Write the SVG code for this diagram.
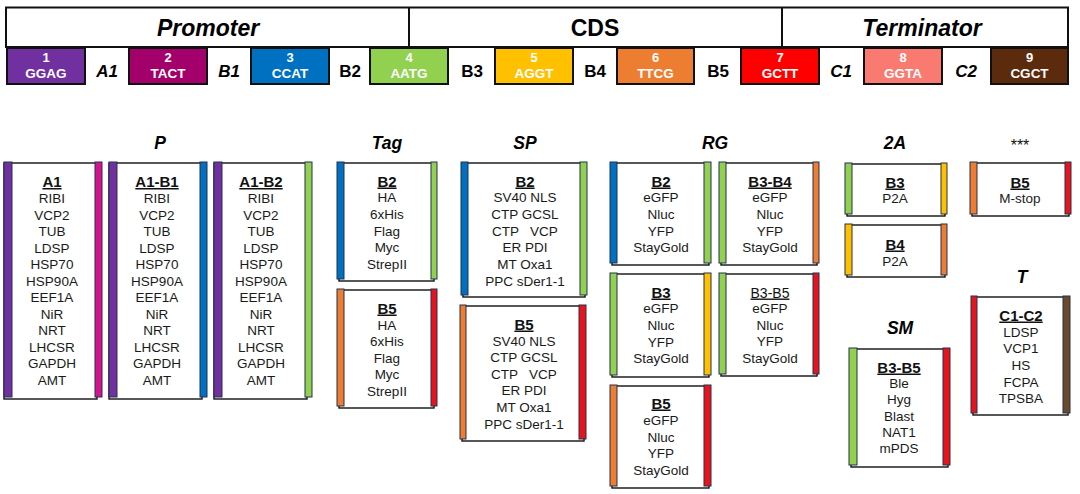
<svg xmlns="http://www.w3.org/2000/svg" width="1080" height="494" viewBox="0 0 1080 494">
<style>
text{font-family:"Liberation Sans",Arial,sans-serif;}
.hdr{font-size:23px;font-weight:bold;fill:#000;text-anchor:middle;}
.it{font-style:italic;}
.gap{font-size:17px;font-weight:bold;fill:#000;text-anchor:middle;}
.num{font-size:13px;font-weight:bold;fill:#fff;text-anchor:middle;}
.seq{font-size:13.5px;font-weight:bold;fill:#fff;text-anchor:middle;}
.part{stroke:#111;stroke-width:2;}
.sec{font-size:17.5px;font-weight:bold;font-style:italic;fill:#000;text-anchor:middle;}
.box{fill:#fff;stroke:#111;stroke-width:1.4;}
.bar{stroke:#23304f;stroke-width:1;}
.ttl{font-size:15px;font-weight:bold;fill:#111;text-anchor:middle;text-decoration:underline;}
.ttlr{font-size:14px;fill:#111;text-anchor:middle;text-decoration:underline;}
.itm{font-size:13.5px;fill:#1a1a1a;text-anchor:middle;}
.pu{fill:#7030A0;} .mg{fill:#D4148E;} .bl{fill:#0070C0;} .gr{fill:#92D050;} .ye{fill:#FFC000;} .or{fill:#ED7D31;} .rd{fill:#E8141B;} .br{fill:#6B4A2A;}
</style>

<g id="header">
<rect x="6" y="7.5" width="1062" height="39.5" fill="#fff" stroke="#111" stroke-width="2"/>
<line x1="409" y1="7.5" x2="409" y2="47" stroke="#111" stroke-width="2"/>
<line x1="782" y1="7.5" x2="782" y2="47" stroke="#111" stroke-width="2"/>
<text class="hdr it" x="208" y="36">Promoter</text>
<text class="hdr" x="595" y="36">CDS</text>
<text class="hdr it" x="922" y="36">Terminator</text>
</g>

<g id="parts">
<rect class="part" x="7" y="48" width="78" height="36" fill="#7030A0"/>
<text class="num" x="46" y="62">1</text><text class="seq" x="46" y="78">GGAG</text>
<rect class="part" x="129" y="48" width="78" height="36" fill="#A3006B"/>
<text class="num" x="168" y="62">2</text><text class="seq" x="168" y="78">TACT</text>
<rect class="part" x="251" y="48" width="78" height="36" fill="#0070C0"/>
<text class="num" x="290" y="62">3</text><text class="seq" x="290" y="78">CCAT</text>
<rect class="part" x="370" y="48" width="78" height="36" fill="#92D050"/>
<text class="num" x="409" y="62">4</text><text class="seq" x="409" y="78">AATG</text>
<rect class="part" x="495" y="48" width="78" height="36" fill="#FFC000"/>
<text class="num" x="534" y="62">5</text><text class="seq" x="534" y="78">AGGT</text>
<rect class="part" x="617" y="48" width="77" height="36" fill="#ED7D31"/>
<text class="num" x="655.5" y="62">6</text><text class="seq" x="655.5" y="78">TTCG</text>
<rect class="part" x="741" y="48" width="78" height="36" fill="#FF0000"/>
<text class="num" x="780" y="62">7</text><text class="seq" x="780" y="78">GCTT</text>
<rect class="part" x="864" y="48" width="78" height="36" fill="#F87A70"/>
<text class="num" x="903" y="62">8</text><text class="seq" x="903" y="78">GGTA</text>
<rect class="part" x="991" y="48" width="77" height="36" fill="#5C2A0C"/>
<text class="num" x="1029.5" y="62">9</text><text class="seq" x="1029.5" y="78">CGCT</text>
<text class="gap it" x="107" y="77">A1</text>
<text class="gap it" x="229" y="77">B1</text>
<text class="gap" x="350" y="77">B2</text>
<text class="gap" x="472" y="77">B3</text>
<text class="gap" x="595" y="77">B4</text>
<text class="gap" x="718" y="77">B5</text>
<text class="gap it" x="841" y="77">C1</text>
<text class="gap it" x="966" y="77">C2</text>
</g>

<g id="section-labels">
<text class="sec" x="160" y="149">P</text>
<text class="sec" x="387" y="149">Tag</text>
<text class="sec" x="525" y="149">SP</text>
<text class="sec" x="715" y="149">RG</text>
<text class="sec" x="895" y="149">2A</text>
<text x="1020" y="151" font-size="16" fill="#111" text-anchor="middle">***</text>
<text class="sec" x="1022" y="283">T</text>
<text class="sec" x="900" y="334">SM</text>
</g>

<g id="P-A1">
<rect class="box" x="4" y="163" width="93" height="236"/>
<rect class="bar pu" x="4" y="162" width="8" height="235"/>
<rect class="bar mg" x="95" y="162" width="7" height="235"/>
<text class="ttl" x="52" y="187">A1</text>
<text class="itm" x="52" y="203">RIBI</text><text class="itm" x="52" y="219.5">VCP2</text><text class="itm" x="52" y="236">TUB</text><text class="itm" x="52" y="252.5">LDSP</text><text class="itm" x="52" y="269">HSP70</text><text class="itm" x="52" y="285.5">HSP90A</text><text class="itm" x="52" y="302">EEF1A</text><text class="itm" x="52" y="318.5">NiR</text><text class="itm" x="52" y="335">NRT</text><text class="itm" x="52" y="351.5">LHCSR</text><text class="itm" x="52" y="368">GAPDH</text><text class="itm" x="52" y="384.5">AMT</text>
</g>

<g id="P-A1-B1">
<rect class="box" x="109" y="163" width="93" height="236"/>
<rect class="bar pu" x="109" y="162" width="8" height="235"/>
<rect class="bar bl" x="200" y="162" width="7" height="235"/>
<text class="ttl" x="157" y="187">A1-B1</text>
<text class="itm" x="157" y="203">RIBI</text><text class="itm" x="157" y="219.5">VCP2</text><text class="itm" x="157" y="236">TUB</text><text class="itm" x="157" y="252.5">LDSP</text><text class="itm" x="157" y="269">HSP70</text><text class="itm" x="157" y="285.5">HSP90A</text><text class="itm" x="157" y="302">EEF1A</text><text class="itm" x="157" y="318.5">NiR</text><text class="itm" x="157" y="335">NRT</text><text class="itm" x="157" y="351.5">LHCSR</text><text class="itm" x="157" y="368">GAPDH</text><text class="itm" x="157" y="384.5">AMT</text>
</g>

<g id="P-A1-B2">
<rect class="box" x="214" y="163" width="93" height="236"/>
<rect class="bar pu" x="214" y="162" width="8" height="235"/>
<rect class="bar gr" x="305" y="162" width="7" height="235"/>
<text class="ttl" x="261" y="187">A1-B2</text>
<text class="itm" x="261" y="203">RIBI</text><text class="itm" x="261" y="219.5">VCP2</text><text class="itm" x="261" y="236">TUB</text><text class="itm" x="261" y="252.5">LDSP</text><text class="itm" x="261" y="269">HSP70</text><text class="itm" x="261" y="285.5">HSP90A</text><text class="itm" x="261" y="302">EEF1A</text><text class="itm" x="261" y="318.5">NiR</text><text class="itm" x="261" y="335">NRT</text><text class="itm" x="261" y="351.5">LHCSR</text><text class="itm" x="261" y="368">GAPDH</text><text class="itm" x="261" y="384.5">AMT</text>
</g>

<g id="Tag-B2">
<rect class="box" x="339" y="163" width="95" height="118"/>
<rect class="bar bl" x="337" y="162" width="7" height="117"/>
<rect class="bar gr" x="431" y="162" width="6" height="117"/>
<text class="ttl" x="387" y="186.5">B2</text>
<text class="itm" x="387" y="202">HA</text><text class="itm" x="387" y="219">6xHis</text><text class="itm" x="387" y="235.5">Flag</text><text class="itm" x="387" y="252">Myc</text><text class="itm" x="387" y="268.5">StrepII</text>
</g>

<g id="Tag-B5">
<rect class="box" x="339" y="290" width="95" height="118"/>
<rect class="bar or" x="337" y="289" width="7" height="117"/>
<rect class="bar rd" x="431" y="289" width="6" height="117"/>
<text class="ttl" x="387" y="313.5">B5</text>
<text class="itm" x="387" y="329.5">HA</text><text class="itm" x="387" y="346">6xHis</text><text class="itm" x="387" y="362.5">Flag</text><text class="itm" x="387" y="379">Myc</text><text class="itm" x="387" y="395.5">StrepII</text>
</g>

<g id="SP-B2">
<rect class="box" x="463" y="163" width="122" height="134"/>
<rect class="bar bl" x="461" y="162" width="7" height="133"/>
<rect class="bar gr" x="580" y="162" width="7" height="133"/>
<text class="ttl" x="525" y="186.5">B2</text>
<text class="itm" x="525" y="202">SV40 NLS</text><text class="itm" x="525" y="219">CTP GCSL</text><text class="itm" x="525" y="235.5" xml:space="preserve">CTP   VCP</text><text class="itm" x="525" y="252">ER PDI</text><text class="itm" x="525" y="268.5">MT Oxa1</text><text class="itm" x="525" y="285.5">PPC sDer1-1</text>
</g>

<g id="SP-B5">
<rect class="box" x="462" y="306" width="122" height="135"/>
<rect class="bar or" x="460" y="305" width="6" height="134"/>
<rect class="bar rd" x="579" y="305" width="7" height="134"/>
<text class="ttl" x="524" y="329.5">B5</text>
<text class="itm" x="524" y="345.5">SV40 NLS</text><text class="itm" x="524" y="362">CTP GCSL</text><text class="itm" x="524" y="378.5" xml:space="preserve">CTP   VCP</text><text class="itm" x="524" y="395">ER PDI</text><text class="itm" x="524" y="411.5">MT Oxa1</text><text class="itm" x="524" y="428.5">PPC sDer1-1</text>
</g>

<g id="RG-B2">
<rect class="box" x="612" y="163" width="97" height="102"/>
<rect class="bar bl" x="610" y="162" width="7" height="101"/>
<rect class="bar gr" x="704" y="162" width="7" height="101"/>
<text class="ttl" x="661" y="186.5">B2</text>
<text class="itm" x="661" y="202">eGFP</text><text class="itm" x="661" y="219">Nluc</text><text class="itm" x="661" y="235.5">YFP</text><text class="itm" x="661" y="252">StayGold</text>
</g>

<g id="RG-B3-B4">
<rect class="box" x="721" y="163" width="96" height="102"/>
<rect class="bar gr" x="719" y="162" width="7" height="101"/>
<rect class="bar or" x="813" y="162" width="6" height="101"/>
<text class="ttl" x="770" y="186.5">B3-B4</text>
<text class="itm" x="770" y="202">eGFP</text><text class="itm" x="770" y="219">Nluc</text><text class="itm" x="770" y="235.5">YFP</text><text class="itm" x="770" y="252">StayGold</text>
</g>

<g id="RG-B3">
<rect class="box" x="612" y="274" width="97" height="103"/>
<rect class="bar gr" x="610" y="273" width="7" height="102"/>
<rect class="bar ye" x="704" y="273" width="7" height="102"/>
<text class="ttl" x="661" y="297.5">B3</text>
<text class="itm" x="661" y="313">eGFP</text><text class="itm" x="661" y="330">Nluc</text><text class="itm" x="661" y="346.5">YFP</text><text class="itm" x="661" y="363">StayGold</text>
</g>

<g id="RG-B3-B5">
<rect class="box" x="721" y="274" width="96" height="102"/>
<rect class="bar gr" x="719" y="273" width="7" height="101"/>
<rect class="bar rd" x="813" y="273" width="6" height="101"/>
<text class="ttlr" x="770" y="297.5">B3-B5</text>
<text class="itm" x="770" y="313">eGFP</text><text class="itm" x="770" y="329.5">Nluc</text><text class="itm" x="770" y="346">YFP</text><text class="itm" x="770" y="362.5">StayGold</text>
</g>

<g id="RG-B5">
<rect class="box" x="612" y="386" width="97" height="102"/>
<rect class="bar or" x="610" y="385" width="7" height="101"/>
<rect class="bar rd" x="704" y="385" width="7" height="101"/>
<text class="ttl" x="661" y="408.5">B5</text>
<text class="itm" x="661" y="424.5">eGFP</text><text class="itm" x="661" y="441.5">Nluc</text><text class="itm" x="661" y="458">YFP</text><text class="itm" x="661" y="474.5">StayGold</text>
</g>

<g id="2A-B3">
<rect class="box" x="847" y="164" width="98" height="52"/>
<rect class="bar gr" x="845" y="163" width="7" height="51"/>
<rect class="bar ye" x="941" y="163" width="6" height="51"/>
<text class="ttl" x="895" y="187.5">B3</text>
<text class="itm" x="895" y="203">P2A</text>
</g>

<g id="2A-B4">
<rect class="box" x="847" y="225" width="98" height="52"/>
<rect class="bar ye" x="845" y="224" width="7" height="51"/>
<rect class="bar or" x="941" y="224" width="6" height="51"/>
<text class="ttl" x="895" y="249.5">B4</text>
<text class="itm" x="895" y="265.5">P2A</text>
</g>

<g id="stop-B5">
<rect class="box" x="972" y="163" width="97" height="53"/>
<rect class="bar or" x="970" y="162" width="7" height="52"/>
<rect class="bar rd" x="1065" y="162" width="6" height="52"/>
<text class="ttl" x="1020" y="187.5">B5</text>
<text class="itm" x="1020" y="203">M-stop</text>
</g>

<g id="T-C1-C2">
<rect class="box" x="973" y="297" width="95" height="118"/>
<rect class="bar rd" x="971" y="296" width="6" height="117"/>
<rect class="bar br" x="1063" y="296" width="7" height="117"/>
<text class="ttl" x="1021" y="320.5">C1-C2</text>
<text class="itm" x="1021" y="336.5">LDSP</text><text class="itm" x="1021" y="353">VCP1</text><text class="itm" x="1021" y="369.5">HS</text><text class="itm" x="1021" y="386.5">FCPA</text><text class="itm" x="1021" y="403">TPSBA</text>
</g>

<g id="SM-B3-B5">
<rect class="box" x="851" y="349" width="97" height="118"/>
<rect class="bar gr" x="849" y="348" width="8" height="117"/>
<rect class="bar rd" x="943" y="348" width="7" height="117"/>
<text class="ttl" x="899" y="372.5">B3-B5</text>
<text class="itm" x="899" y="388">Ble</text><text class="itm" x="899" y="404">Hyg</text><text class="itm" x="899" y="420.5">Blast</text><text class="itm" x="899" y="437">NAT1</text><text class="itm" x="899" y="453">mPDS</text>
</g>

<g id="connectors"></g>
</svg>
